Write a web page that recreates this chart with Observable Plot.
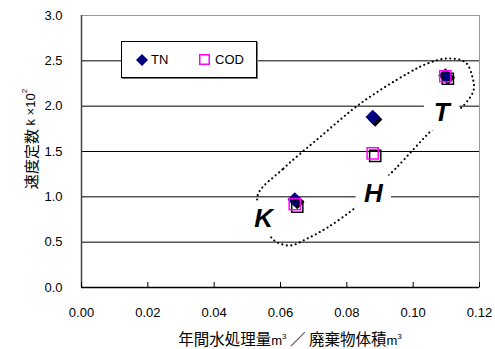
<!DOCTYPE html>
<html><head><meta charset="utf-8">
<script src="https://cdn.jsdelivr.net/npm/d3@7"></script>
<script src="https://cdn.jsdelivr.net/npm/@observablehq/plot@0.6"></script>
<style>
body{margin:0;background:#fff;}
#wrap{position:relative;width:495px;height:349px;font-family:"Liberation Sans",Arial,"Noto Sans CJK JP",sans-serif;}
#legend{position:absolute;left:121px;top:41px;width:134px;height:35px;background:#fff;border:1px solid #000;box-shadow:1px 1px 0 #777;font-size:13px;color:#000;}
#legend .it{position:absolute;top:0;height:35px;display:flex;align-items:center;}
</style></head><body><div id="wrap"></div>
<script>
// data
const seriesNames = ["TN", "COD"];
const xVals = [0.0643, 0.0878, 0.1097];
const tnVals = [0.97, 1.88, 2.34];
const codVals = [0.92, 1.48, 2.33];
const xTicks = [0, 0.02, 0.04, 0.06, 0.08, 0.10, 0.12];
const yTicks = [0, 0.5, 1.0, 1.5, 2.0, 2.5, 3.0];
const zoneLabels = ["K", "H", "T"];
const zoneX = [0.0549, 0.0880, 0.1086];
const zoneY = [0.76, 1.04, 1.93];
// dotted loop outline
const loopX = [0.0531, 0.0609, 0.0721, 0.0841, 0.0983, 0.1043, 0.1104, 0.1158, 0.1179, 0.1182, 0.1149, 0.1097, 0.1061, 0.0947, 0.0880, 0.0826, 0.0742, 0.0681, 0.0630, 0.0591, 0.0570, 0.0546];
const loopY = [1.015, 1.312, 1.665, 2.029, 2.360, 2.470, 2.526, 2.482, 2.316, 2.173, 1.996, 1.864, 1.754, 1.312, 1.070, 0.882, 0.662, 0.540, 0.463, 0.496, 0.562, 0.772];

const tn = xVals.map((x, i) => ({x, y: tnVals[i]}));
const cod = xVals.map((x, i) => ({x, y: codVals[i]}));
const loop = loopX.map((x, i) => ({x, y: loopY[i]}));
const zones = zoneLabels.map((t, i) => ({t, x: zoneX[i], y: zoneY[i]}));

const font = '"Liberation Sans", Arial, "Noto Sans CJK JP", sans-serif';
const cjk = '"Noto Sans CJK JP", sans-serif';

const chart = Plot.plot({
  width: 495, height: 349,
  marginLeft: 81, marginRight: 16, marginTop: 15, marginBottom: 62,
  style: {fontFamily: font, fontSize: "13px", color: "#000", background: "#fff"},
  x: {domain: [0, 0.12]},
  y: {domain: [0, 3]},
  marks: [
    Plot.ruleY(yTicks.filter(v => v > 0 && v < 3), {stroke: "#000", strokeWidth: 1}),
    Plot.frame({stroke: "#999"}),
    Plot.ruleX([0], {stroke: "#444", strokeWidth: 1.5}),
    Plot.ruleY([0], {stroke: "#000", strokeWidth: 1.5}),
    Plot.axisX({ticks: xTicks, tickFormat: d3.format(".2f"), tickSize: -5, tickPadding: 25, label: null, stroke: "#000"}),
    Plot.axisY({ticks: yTicks, tickFormat: d3.format(".1f"), tickSize: 0, tickPadding: 19, label: null}),
    Plot.line(loop, {x: "x", y: "y", curve: "catmull-rom-closed", stroke: "#000", strokeWidth: 2.2, strokeDasharray: "0 4.5", strokeLinecap: "round"}),
    Plot.dot(zones, {x: "x", y: "y", symbol: "square", r: 20, fill: "white"}),
    Plot.text(zones, {x: "x", y: "y", text: "t", fontSize: 26, fontWeight: "bold", fontStyle: "italic", fill: "#000"}),
    Plot.dot(tn, {x: "x", y: "y", symbol: "diamond2", r: 6.5, fill: "#000", dx: 2.5, dy: 2.5}),
    Plot.dot(tn, {x: "x", y: "y", symbol: "diamond2", r: 6.5, fill: "#000080"}),
    Plot.dot(cod, {x: "x", y: "y", symbol: "square", r: 6.3, fill: "none", stroke: "#000", strokeWidth: 1.5, dx: 2.5, dy: 2.5}),
    Plot.dot(cod, {x: "x", y: "y", symbol: "square", r: 6.3, fill: "none", stroke: "#ff00ff", strokeWidth: 1.5})
  ]
});

const svg = d3.select(chart);
// y label
const yl = svg.append("text")
  .attr("transform", "translate(30,139) rotate(-90)")
  .attr("text-anchor", "middle")
  .attr("dominant-baseline", "central")
  .attr("font-size", 13).attr("fill", "#000")
  .attr("font-family", font);
yl.append("tspan").attr("font-family", cjk).attr("font-size", 15).text("速度定数");
yl.append("tspan").text(" k ×10");
yl.append("tspan").attr("dy", -6).attr("font-size", 8).text("2");
// x label
const xl = svg.append("text")
  .attr("x", 290).attr("y", 345)
  .attr("text-anchor", "middle")
  .attr("font-size", 13).attr("fill", "#000")
  .attr("font-family", font);
xl.append("tspan").attr("font-family", cjk).attr("font-size", 15.5).text("年間水処理量");
xl.append("tspan").text("m");
xl.append("tspan").attr("dy", -6).attr("font-size", 8).text("3");
xl.append("tspan").attr("dy", 6).attr("font-family", cjk).attr("font-size", 15.5).text(" ／ 廃棄物体積");
xl.append("tspan").text("m");
xl.append("tspan").attr("dy", -6).attr("font-size", 8).text("3");

const wrap = document.getElementById("wrap");
wrap.appendChild(chart);

// legend overlay
const lg = document.createElement("div");
lg.id = "legend";
lg.innerHTML =
  `<div class="it" style="left:14px"><svg width="12" height="12"><polygon points="6,0 12,6 6,12 0,6" fill="#000080"/></svg></div>` +
  `<div class="it" style="left:29px">${seriesNames[0]}</div>` +
  `<div class="it" style="left:77px"><svg width="11" height="11"><rect x="0.75" y="0.75" width="9.5" height="9.5" fill="none" stroke="#ff00ff" stroke-width="1.5"/></svg></div>` +
  `<div class="it" style="left:93px">${seriesNames[1]}</div>`;
wrap.appendChild(lg);
</script>
</body></html>
